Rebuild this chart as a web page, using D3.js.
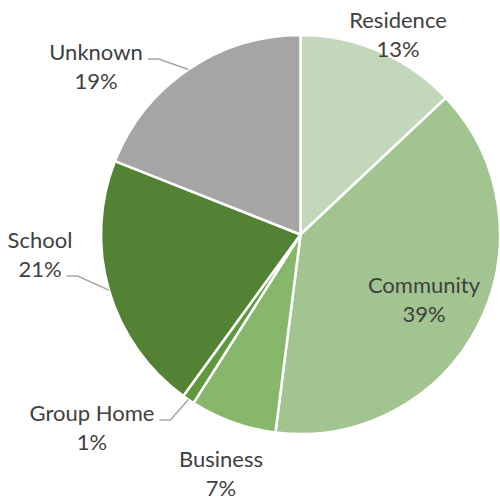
<!DOCTYPE html>
<html>
<head>
<meta charset="utf-8">
<script src="https://cdn.jsdelivr.net/npm/d3@7"></script>
<style>
  html, body { margin: 0; padding: 0; background: #fff; }
  svg { display: block; }
</style>
</head>
<body>
<div id="chart"></div>
<script>
// slice data, clockwise from 12 o'clock
const categories = ["Residence", "Community", "Business", "Group Home", "School", "Unknown"];
const percents = [13, 39, 7, 1, 21, 19];
const colors = ["#c3d8ba", "#a2c490", "#87b76b", "#5f983d", "#548235", "#a5a5a5"];

// where Excel put each label (text centre x, first baseline y);
// leader = which text line (0 name, 1 percent) the leader line starts from
const label_layout = [
    {x: 398, y: 28},
    {x: 424, y: 293},
    {x: 221, y: 467},
    {x: 92, y: 421, leader: 0},
    {x: 40, y: 248, leader: 1},
    {x: 96, y: 60, leader: 0}
];

const width = 500, height = 500;
const cx = 300.5, cy = 234.5, radius = 199.5;
const line_height = 29;

const svg = d3.select("#chart")
    .append("svg")
        .attr("width", width)
        .attr("height", height);

const data = categories.map((c, i) => ({name: c, value: percents[i], color: colors[i], layout: label_layout[i]}));

const pie = d3.pie()
    .sort(null)
    .value((d) => d.value);
const arcs = pie(data);

const arc = d3.arc().innerRadius(0).outerRadius(radius);
const edge = d3.arc().innerRadius(radius).outerRadius(radius);

const g = svg.append("g")
    .attr("transform", `translate(${cx},${cy})`);

g.selectAll("path.slice")
    .data(arcs)
    .enter()
        .append("path")
        .attr("class", "slice")
        .attr("d", arc)
        .attr("fill", (d) => d.data.color)
        .attr("stroke", "#fff")
        .attr("stroke-width", 2.5)
        .attr("stroke-linejoin", "round");

// labels
const labels = svg.append("g")
    .selectAll("text")
    .data(arcs)
    .enter()
        .append("text")
        .attr("text-anchor", "middle")
        .style("font-family", "Lato, 'Open Sans', sans-serif")
        .style("font-size", "22px")
        .style("fill", "#404040");

labels.append("tspan")
    .attr("x", (d) => d.data.layout.x)
    .attr("y", (d) => d.data.layout.y)
    .text((d) => d.data.name);
labels.append("tspan")
    .attr("x", (d) => d.data.layout.x)
    .attr("y", (d) => d.data.layout.y + line_height)
    .text((d) => d.value + "%");

// leader lines: from right end of a label line (near its baseline), short horizontal, then to the slice edge
labels.each(function(d) {
    const lay = d.data.layout;
    if (lay.leader === undefined) return;
    const tspan = this.childNodes[lay.leader];
    const w = tspan.getComputedTextLength();
    const ly = lay.y + lay.leader * line_height - 1;
    const x0 = lay.x + w / 2 + 5;
    const end = edge.centroid(d);
    const ex = cx + end[0], ey = cy + end[1];
    svg.append("polyline")
        .attr("points", [[x0, ly], [x0 + 11, ly], [ex, ey]].map((p) => p.join(",")).join(" "))
        .attr("fill", "none")
        .attr("stroke", "#a6a6a6")
        .attr("stroke-width", 1.5);
});
</script>
</body>
</html>
